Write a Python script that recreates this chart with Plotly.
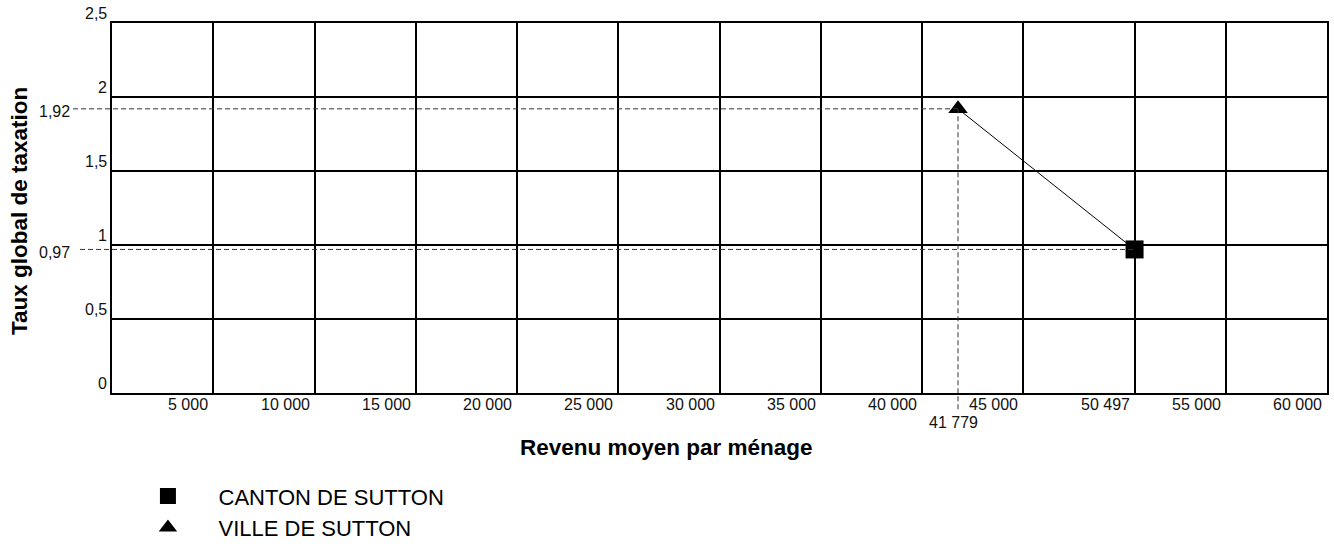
import plotly.graph_objects as go

# ---- data ----
x_tick_vals = [5000, 10000, 15000, 20000, 25000, 30000, 35000, 40000, 45000, 50497, 55000, 60000]
x_tick_text = ["5 000", "10 000", "15 000", "20 000", "25 000", "30 000", "35 000", "40 000",
               "45 000", "50 497", "55 000", "60 000"]
y_tick_vals = [0, 0.5, 1, 1.5, 2, 2.5]
y_tick_text = ["0", "0,5", "1", "1,5", "2", "2,5"]

series_names = ["CANTON DE SUTTON", "VILLE DE SUTTON"]
series_x = [50497, 41779]        # revenu moyen par ménage
series_y = [0.97, 1.92]          # taux global de taxation
series_x_text = ["50 497", "41 779"]
series_y_text = ["0,97", "1,92"]
series_symbols = ["square", "triangle-up"]

X_RANGE = [0, 60000]
Y_RANGE = [0, 2.5]

# ---- layout geometry (page coordinates; body margin removed below) ----
W, H = 1334, 554
P_LEFT, P_RIGHT, P_TOP, P_BOTTOM = 112, 1329, 23, 410
ML = P_LEFT
MT = P_TOP
MR = W - P_RIGHT
MB = H - P_BOTTOM
PW = P_RIGHT - P_LEFT
PH = P_BOTTOM - P_TOP
FONT = "Liberation Sans, Arial, sans-serif"
TICK_FONT = dict(family=FONT, size=16, color="#111")


def px_x(px):
    return (px - P_LEFT) / PW


def px_y(py):
    return (P_BOTTOM - py) / PH


def dx(v):
    return (v - X_RANGE[0]) / (X_RANGE[1] - X_RANGE[0])


def dy(v):
    return (v - Y_RANGE[0]) / (Y_RANGE[1] - Y_RANGE[0])


fig = go.Figure()

# connecting line between the two points (ordered by x)
order = sorted(range(len(series_x)), key=lambda i: series_x[i])
fig.add_trace(go.Scatter(
    x=[series_x[i] for i in order], y=[series_y[i] for i in order],
    mode="lines", line=dict(color="black", width=1), showlegend=False, hoverinfo="skip"))

for name, xv, yv, sym in zip(series_names, series_x, series_y, series_symbols):
    fig.add_trace(go.Scatter(
        x=[xv], y=[yv], mode="markers", name="\u00a0" * 5 + name,
        marker=dict(symbol=sym, size=18 if sym == "square" else 17, color="black",
                    line=dict(width=0)),
        cliponaxis=False))

shapes = []
annotations = []

# dashed reference lines to the y axis
for xv, yv, yt, start in zip(series_x, series_y, series_y_text, [80, 73]):
    shapes.append(dict(type="line", xref="paper", yref="paper",
                       x0=px_x(start), x1=dx(xv), y0=dy(yv), y1=dy(yv),
                       line=dict(color="#333333", width=1, dash="5px,3px"), layer="above"))
    annotations.append(dict(xref="paper", yref="y", x=px_x(72), y=yv, text=yt,
                            xanchor="right", yanchor="middle", yshift=-3, showarrow=False,
                            font=TICK_FONT))

# vertical dashed line for the value not on a gridline (41 779)
vx = series_x[1]
shapes.append(dict(type="line", xref="paper", yref="paper",
                   x0=dx(vx), x1=dx(vx), y0=px_y(427), y1=dy(series_y[1]),
                   line=dict(color="#333333", width=1, dash="5px,3px"), layer="above"))
annotations.append(dict(xref="x", yref="paper", x=vx, y=px_y(430), text=series_x_text[1],
                        xanchor="center", yanchor="top", xshift=-5, showarrow=False,
                        font=TICK_FONT))

# x tick labels (right-aligned to the left of each gridline)
for v, t in zip(x_tick_vals, x_tick_text):
    annotations.append(dict(xref="x", yref="paper", x=v, y=0, text=t,
                            xanchor="right", yanchor="top", xshift=-3, yshift=-1,
                            showarrow=False, font=TICK_FONT))

# y tick labels (above each gridline)
for v, t in zip(y_tick_vals, y_tick_text):
    annotations.append(dict(xref="paper", yref="y", x=px_x(109), y=v, text=t,
                            xanchor="right", yanchor="bottom", yshift=-1,
                            showarrow=False, font=TICK_FONT))

# axis titles
annotations.append(dict(xref="paper", yref="paper", x=px_x(667), y=px_y(467),
                        text="<b>Revenu moyen par ménage</b>", xanchor="center", yanchor="middle",
                        showarrow=False, font=dict(family=FONT, size=22.5, color="black")))
annotations.append(dict(xref="paper", yref="paper", x=px_x(20), y=px_y(219.5),
                        text="<b>Taux global de taxation</b>", textangle=-90,
                        xanchor="center", yanchor="middle",
                        showarrow=False, font=dict(family=FONT, size=22.5, color="black")))

fig.update_layout(
    width=W, height=H,
    margin=dict(l=ML, r=MR, t=MT, b=MB, pad=0),
    paper_bgcolor="white", plot_bgcolor="white",
    font=dict(family=FONT, color="black"),
    xaxis=dict(range=X_RANGE, tickvals=x_tick_vals, showticklabels=False, ticks="",
               showgrid=True, gridcolor="black", gridwidth=2, zeroline=False,
               showline=True, linecolor="black", linewidth=2, mirror=True, fixedrange=True),
    yaxis=dict(range=Y_RANGE, tickvals=y_tick_vals, showticklabels=False, ticks="",
               showgrid=True, gridcolor="black", gridwidth=2, zeroline=False,
               showline=True, linecolor="black", linewidth=2, mirror=True, fixedrange=True),
    shapes=shapes,
    annotations=annotations,
    showlegend=True,
    hovermode=False,
    legend=dict(x=px_x(148), y=px_y(496), xanchor="left", yanchor="top",
                font=dict(family=FONT, size=22, color="black"),
                bgcolor="rgba(0,0,0,0)", borderwidth=0, tracegroupgap=0),
)

fig.write_html(
    "out.html",
    config={"displayModeBar": False, "staticPlot": True},
    post_script="document.body.style.margin='0';document.body.style.overflow='hidden';",
)
